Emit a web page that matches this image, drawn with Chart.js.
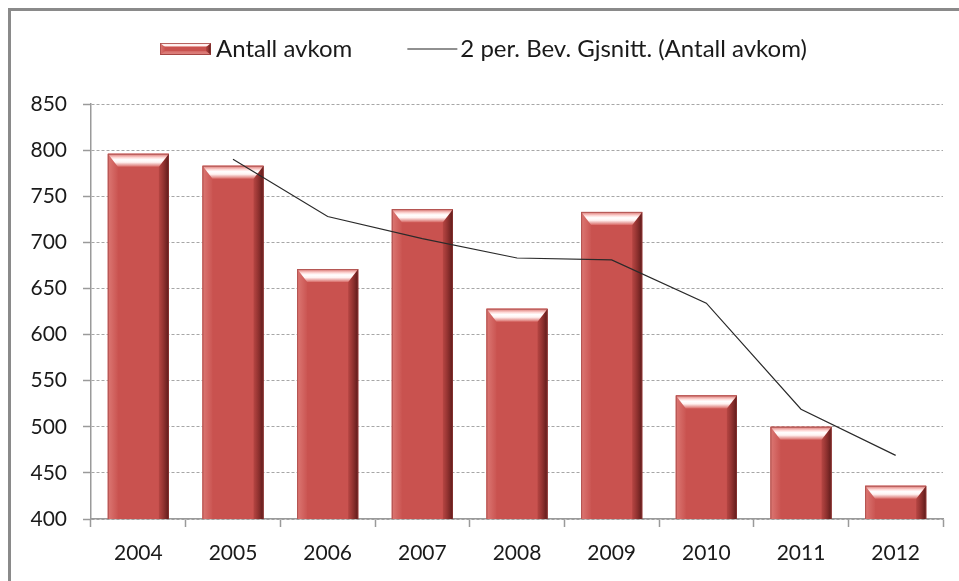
<!DOCTYPE html>
<html>
<head>
<meta charset="utf-8">
<script src="https://cdn.jsdelivr.net/npm/chart.js@4.4.1/dist/chart.umd.min.js"></script>
<style>
  html, body { margin: 0; padding: 0; background: #fff; }
  #wrap { position: relative; width: 959px; height: 581px; }
</style>
</head>
<body>
<div id="wrap"><canvas id="avkomChart"></canvas></div>
<script>
  // data
  const years = ['2004', '2005', '2006', '2007', '2008', '2009', '2010', '2011', '2012'];
  const antallAvkom = [796, 783, 671, 736, 628, 733, 534, 500, 436];
  const bevGjsnitt = [null, 790, 728, 704, 683, 681, 634, 519, 469];
  const barLabel = 'Antall avkom';
  const lineLabel = '2 per. Bev. Gjsnitt. (Antall avkom)';

  const FONT = 'Lato, "Open Sans", sans-serif';
  const barColor = '#C9524F';

  // paints the bevel look of one bar (excel style)
  function bevelBar(ctx, l, r, t, b, d, s) {
    const w = r - l;
    const h = b - t;
    if (h < 2 * d) d = h / 2;
    ctx.save();
    ctx.fillStyle = barColor;
    ctx.fillRect(l, t, w, h);

    // left side
    let g = ctx.createLinearGradient(l, 0, l + s, 0);
    g.addColorStop(0, 'rgba(235,150,145,0.55)');
    g.addColorStop(1, 'rgba(235,150,145,0.05)');
    ctx.fillStyle = g;
    ctx.beginPath();
    ctx.moveTo(l, t); ctx.lineTo(l + s, t + d); ctx.lineTo(l + s, b - d); ctx.lineTo(l, b);
    ctx.closePath(); ctx.fill();

    // right side (dark)
    g = ctx.createLinearGradient(r - s, 0, r, 0);
    g.addColorStop(0, 'rgba(120,30,28,0.25)');
    g.addColorStop(1, 'rgba(70,15,15,0.85)');
    ctx.fillStyle = g;
    ctx.beginPath();
    ctx.moveTo(r, t); ctx.lineTo(r - s, t + d); ctx.lineTo(r - s, b - d); ctx.lineTo(r, b);
    ctx.closePath(); ctx.fill();

    // top highlight
    g = ctx.createLinearGradient(0, t, 0, t + d);
    g.addColorStop(0, '#D9706C');
    g.addColorStop(0.3, '#FFDCDA');
    g.addColorStop(0.45, '#FFFFFF');
    g.addColorStop(0.65, '#FFF2F1');
    g.addColorStop(1, '#D86A66');
    ctx.fillStyle = g;
    ctx.beginPath();
    ctx.moveTo(l, t); ctx.lineTo(r, t); ctx.lineTo(r - s, t + d); ctx.lineTo(l + s, t + d);
    ctx.closePath(); ctx.fill();

    // bottom
    g = ctx.createLinearGradient(0, b - d, 0, b);
    g.addColorStop(0, 'rgba(240,170,165,0.25)');
    g.addColorStop(0.6, 'rgba(240,170,165,0.55)');
    g.addColorStop(1, 'rgba(150,50,48,0.6)');
    ctx.fillStyle = g;
    ctx.beginPath();
    ctx.moveTo(l, b); ctx.lineTo(r, b); ctx.lineTo(r - s, b - d); ctx.lineTo(l + s, b - d);
    ctx.closePath(); ctx.fill();

    ctx.strokeStyle = 'rgba(150,60,58,0.6)';
    ctx.lineWidth = 1;
    ctx.strokeRect(l + 0.5, t + 0.5, w - 1, h - 1);
    ctx.restore();
  }

  const bevelPlugin = {
    id: 'bevel',
    afterDatasetDraw(chart, args) {
      if (args.index !== 0) return;
      const ctx = chart.ctx;
      const area = chart.chartArea;
      ctx.save();
      ctx.beginPath();
      ctx.rect(area.left, area.top - 2, area.right - area.left, area.bottom - area.top + 2);
      ctx.clip();
      args.meta.data.forEach(bar => {
        const p = bar.getProps(['x', 'y', 'base', 'width'], true);
        bevelBar(ctx, p.x - p.width / 2, p.x + p.width / 2, p.y, p.base, 13, 10);
      });
      ctx.restore();
    }
  };

  const frameLegendPlugin = {
    id: 'frameLegend',
    beforeDraw(chart) {
      const ctx = chart.ctx;
      ctx.save();
      ctx.strokeStyle = '#8A8A8A';
      ctx.lineWidth = 3;
      ctx.strokeRect(9.5, 9.5, chart.width + 20, chart.height + 20);
      ctx.restore();
    },
    afterDraw(chart) {
      const ctx = chart.ctx;
      ctx.save();
      ctx.font = '24px ' + FONT;
      ctx.fillStyle = '#1a1a1a';
      ctx.textBaseline = 'middle';
      const cy = 49;
      let x = 160;
      bevelBar(ctx, x, x + 51, cy - 6, cy + 6, 4, 5);
      x += 56;
      ctx.fillText(barLabel, x, cy);
      x += ctx.measureText(barLabel).width + 55;
      ctx.strokeStyle = '#222';
      ctx.lineWidth = 1.2;
      ctx.beginPath();
      ctx.moveTo(x, cy); ctx.lineTo(x + 50, cy);
      ctx.stroke();
      x += 53;
      ctx.fillText(lineLabel, x, cy);
      ctx.restore();
    }
  };

  const ctx = document.getElementById('avkomChart').getContext('2d');
  new Chart(ctx, {
    data: {
      labels: years,
      datasets: [
        {
          type: 'bar',
          label: barLabel,
          data: antallAvkom,
          backgroundColor: barColor,
          barPercentage: 0.645,
          categoryPercentage: 1,
          order: 1
        },
        {
          type: 'line',
          label: lineLabel,
          data: bevGjsnitt,
          borderColor: '#2a2a2a',
          borderWidth: 1.2,
          pointRadius: 0,
          tension: 0,
          fill: false,
          order: 0
        }
      ]
    },
    options: {
      responsive: true,
      maintainAspectRatio: false,
      animation: false,
      layout: { padding: { top: 104, right: 16, bottom: 0, left: 0 } },
      plugins: {
        legend: { display: false },
        tooltip: { enabled: false }
      },
      scales: {
        x: {
          grid: { offset: true, drawOnChartArea: false, tickLength: 8, tickColor: '#9A9A9A', tickWidth: 1.5 },
          border: { color: '#9A9A9A', width: 1.5 },
          ticks: { color: '#1a1a1a', font: { family: FONT, size: 21 }, padding: 14 },
          afterFit(scale) { scale.height = 62; }
        },
        y: {
          min: 400,
          max: 850,
          ticks: { stepSize: 50, color: '#1a1a1a', font: { family: FONT, size: 21 }, padding: 16 },
          grid: { color: '#A6A6A6', lineWidth: 1, tickLength: 8, tickColor: '#9A9A9A', tickWidth: 1.5 },
          border: { color: '#9A9A9A', width: 1.5, dash: [3, 2] },
          afterFit(scale) { scale.width = 91; }
        }
      }
    },
    plugins: [bevelPlugin, frameLegendPlugin]
  });
</script>
</body>
</html>
